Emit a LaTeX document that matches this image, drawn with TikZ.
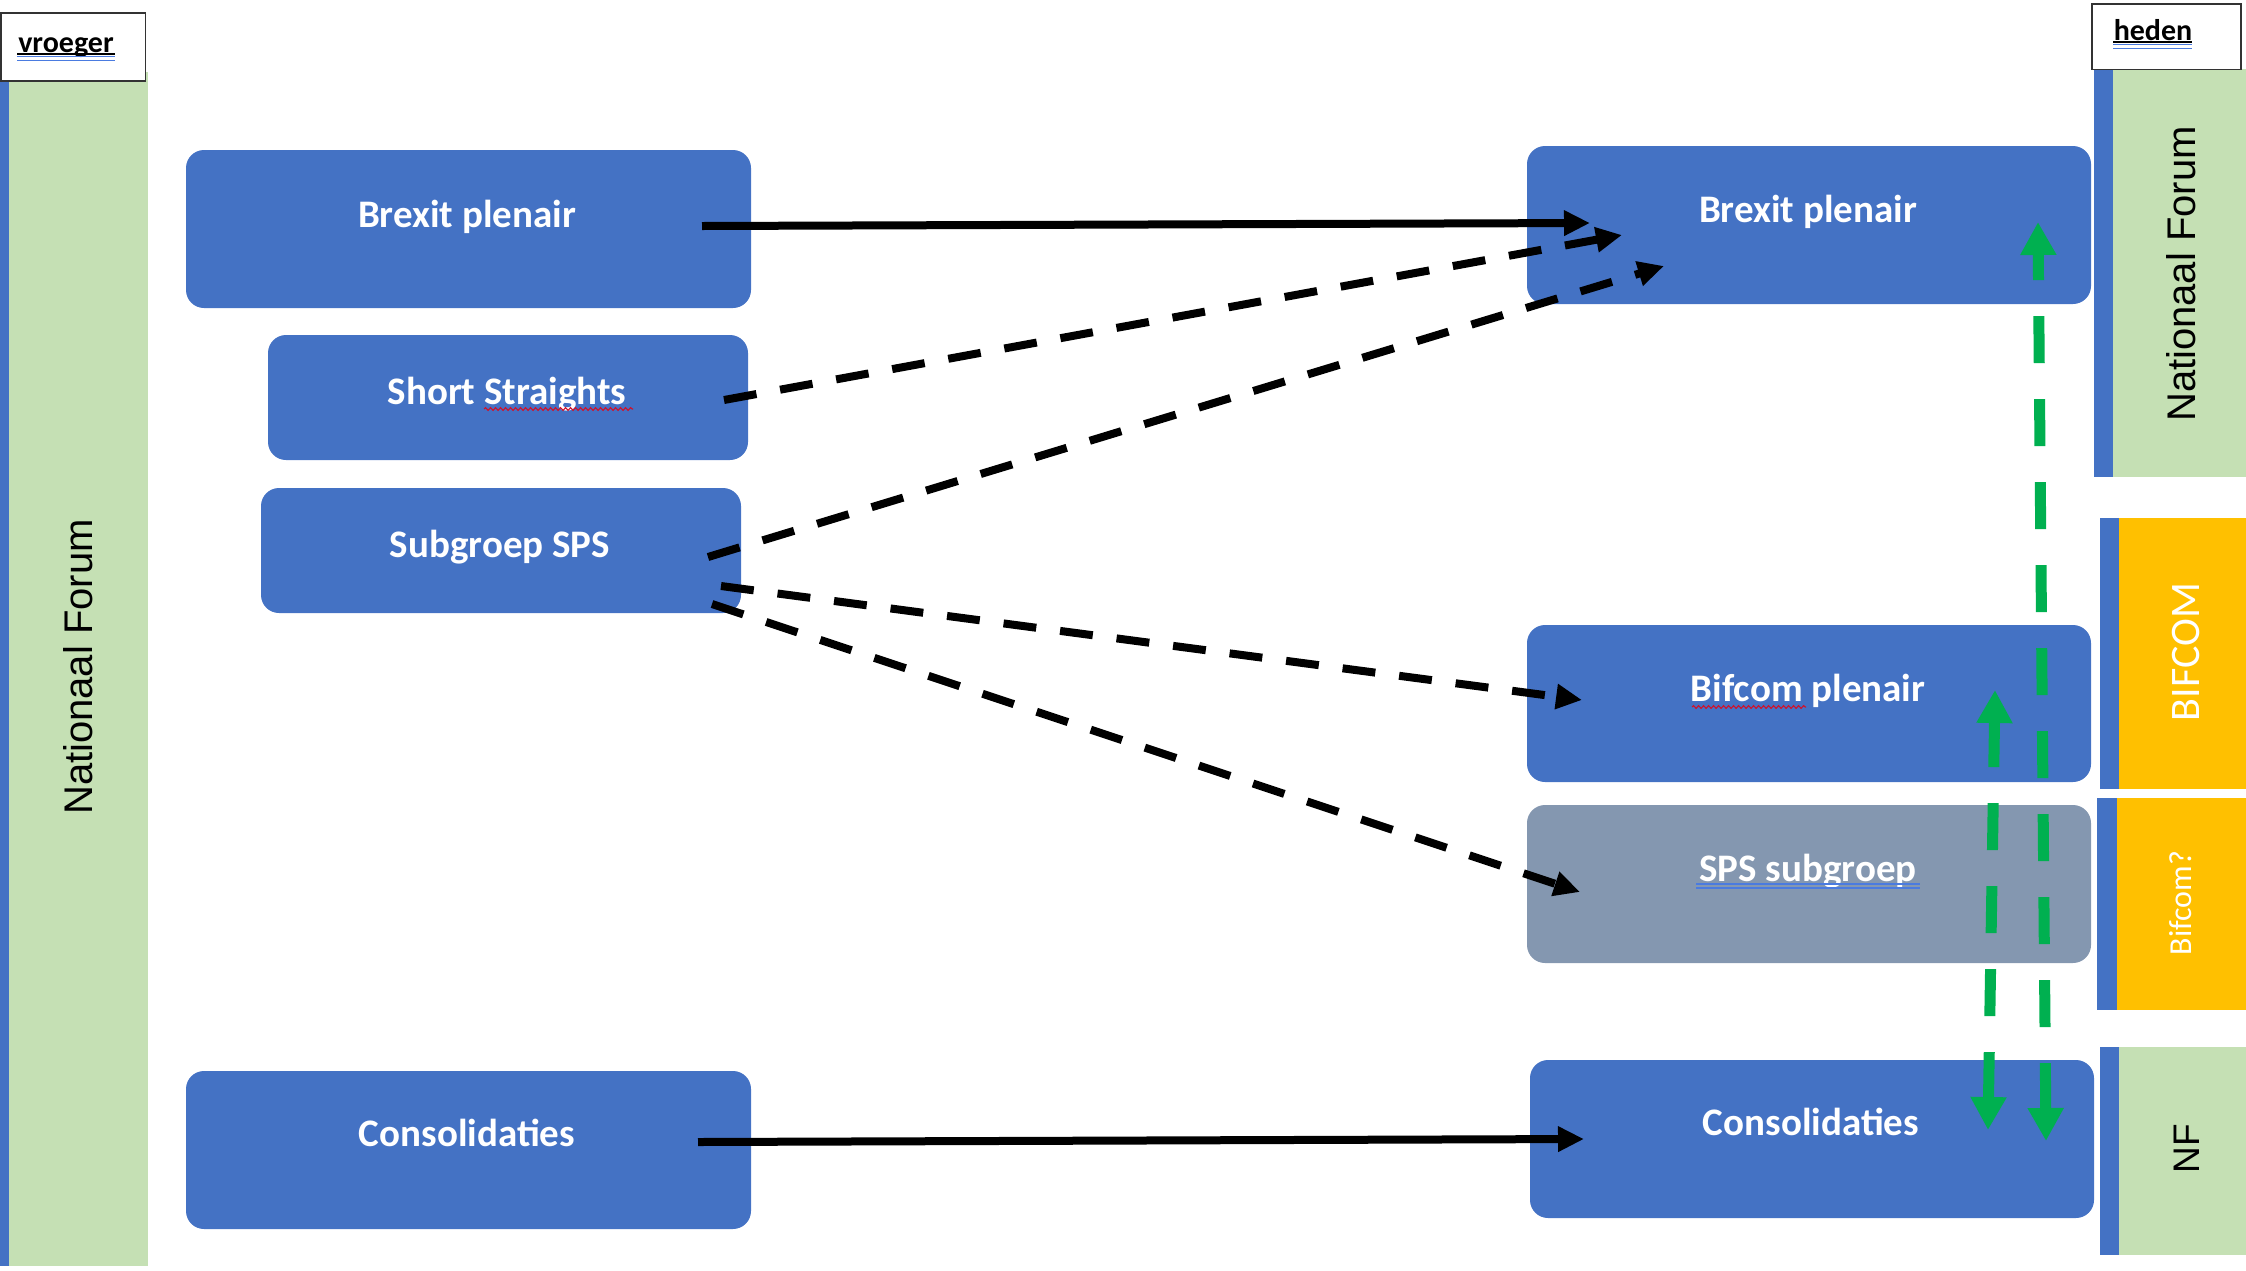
\documentclass[tikz,border=0pt]{standalone}
\usepackage{fontspec}
\setmainfont{Carlito}
\newfontfamily\arialf{Liberation Sans}
\usetikzlibrary{arrows.meta,decorations.pathmorphing,calc}
\definecolor{boxblue}{HTML}{4472C4}
\definecolor{panelgreen}{HTML}{C5E0B4}
\definecolor{panelorange}{HTML}{FFC000}
\definecolor{boxgray}{HTML}{8497B0}
\definecolor{arrowgreen}{HTML}{00B050}
\definecolor{ulblue}{HTML}{4A7BE0}
\definecolor{spellred}{HTML}{D0102A}
\tikzset{
  box/.style={fill=boxblue, rounded corners=18pt, inner sep=0pt, outer sep=0pt, draw=none},
  boxtxt/.style={text=white, font=\fontsize{39}{47}\selectfont\bfseries, anchor=base, inner sep=0pt},
  arr/.style={line width=8pt, draw=black, -{Triangle[length=26pt,width=24pt]}},
  dasharr/.style={arr, dash pattern=on 33pt off 24pt},
  grnarr/.style={line width=11pt, draw=arrowgreen, dash pattern=on 47pt off 36pt,
     {Triangle[length=33pt,width=34pt]}-{Triangle[length=33pt,width=34pt]}},
  sidetxt/.style={rotate=90, inner sep=0pt, anchor=center},
  tagbox/.style={draw=black!80, line width=1.5pt, fill=white},
  tagtxt/.style={font=\fontsize{30}{36}\selectfont\bfseries, anchor=base, inner sep=0pt},
  blueul/.style={draw=ulblue, line width=1.3pt},
  wavy/.style={draw=spellred, line width=1.1pt, decorate, decoration={snake, amplitude=1.4pt, segment length=5pt}}
}
\begin{document}
\begin{tikzpicture}[x=1pt,y=-1pt]
\useasboundingbox (0,0) rectangle (2246,1270);

% left panel
\fill[panelgreen] (9,72) rectangle (148,1266);
\fill[boxblue] (0,81) rectangle (9,1266);
\draw[tagbox] (0.75,13) rectangle (145.5,81);
\node[tagtxt] (vroeg) at (66,52) {vroeger};
\draw[line width=1.4pt, black] (17,54) -- (115,54);
\draw[blueul] (17,56.5) -- (115,56.5);
\draw[blueul] (17,60.5) -- (115,60.5);
\node[sidetxt, font=\arialf\fontsize{40}{48}\selectfont] (lnf) at (78,667) {Nationaal Forum};

% right panels
\fill[boxblue] (2094,69) rectangle (2113,477);
\fill[panelgreen] (2113,69) rectangle (2246,477);
\draw[tagbox] (2092,3.75) rectangle (2241,69.5);
\node[tagtxt] (heden) at (2153,40) {heden};
\draw[line width=1.4pt, black] (2113,42) -- (2192,42);
\draw[blueul] (2113,44.5) -- (2192,44.5);
\draw[blueul] (2113,48.5) -- (2192,48.5);
\node[sidetxt, font=\arialf\fontsize{40}{48}\selectfont] (rnf) at (2181,274) {Nationaal Forum};

\fill[boxblue] (2100,518) rectangle (2119,789);
\fill[panelorange] (2119,518) rectangle (2246,789);
\node[sidetxt, text=white, font=\fontsize{42}{50}\selectfont] (bifc) at (2186,652) {BIFCOM};

\fill[boxblue] (2097,798) rectangle (2117,1010);
\fill[panelorange] (2117,798) rectangle (2246,1010);
\node[sidetxt, text=white, font=\fontsize{32}{38}\selectfont] (bifq) at (2181,903) {Bifcom?};

\fill[boxblue] (2100,1047) rectangle (2119,1255);
\fill[panelgreen] (2119,1047) rectangle (2246,1255);
\node[sidetxt, font=\arialf\fontsize{37}{44}\selectfont] (nf) at (2187,1149) {NF};

% left boxes
\node[box, minimum width=565pt, minimum height=158pt] (bpL) at (468.5,229) {};
\node[box, minimum width=480pt, minimum height=125pt] (ssL) at (508,397.5) {};
\node[box, minimum width=480pt, minimum height=125pt] (sgL) at (501,550.5) {};
\node[box, minimum width=565pt, minimum height=158pt] (coL) at (468.5,1150) {};
\node[boxtxt] (bpLt) at (467,227) {Brexit plenair};
\node[boxtxt] (ssLt) at (507,404) {Short Straights};
\node[boxtxt] (sgLt) at (500,557) {Subgroep SPS};
\node[boxtxt] (coLt) at (467,1146) {Consolidaties};
\draw[wavy] (484,409) -- (633,409);

% right boxes
\node[box, minimum width=564pt, minimum height=158pt] (bpR) at (1809,225) {};
\node[box, minimum width=564pt, minimum height=157pt] (bfR) at (1809,703.5) {};
\node[box, fill=boxgray, minimum width=564pt, minimum height=158pt] (spR) at (1809,884) {};
\node[box, minimum width=564pt, minimum height=158pt] (coR) at (1812,1139) {};
\node[boxtxt] (bpRt) at (1808,222) {Brexit plenair};
\node[boxtxt] (bfRt) at (1808,701) {Bifcom plenair};
\node[boxtxt] (spRt) at (1808,881) {SPS subgroep};
\node[boxtxt] (coRt) at (1811,1135) {Consolidaties};
\draw[wavy] (1692,707) -- (1806,707);
\draw[blueul] (1696,884) -- (1920,884);
\draw[blueul] (1696,888) -- (1920,888);

% connector end points
\coordinate (s1) at ($(bpL.east)+(-49,-3)$);
\coordinate (t1) at ($(bpR.west)+(63,-2)$);
\coordinate (s2) at ($(ssL.east)+(-24,2.5)$);
\coordinate (t2) at ($(bpR.west)+(95,10)$);
\coordinate (s3) at ($(sgL.east)+(-33,6.5)$);
\coordinate (t3) at ($(bpR.west)+(137,41)$);
\coordinate (s4) at ($(sgL.east)+(-20,35.5)$);
\coordinate (t4) at ($(bfR.west)+(55,-3.5)$);
\coordinate (s5) at ($(sgL.east)+(-29,53.5)$);
\coordinate (t5) at ($(spR.west)+(53,8)$);
\coordinate (s6) at ($(coL.east)+(-53,-8)$);
\coordinate (t6) at ($(coR.west)+(54,0)$);
\coordinate (g1a) at ($(coR.east)+(-48,2)$);
\coordinate (g1b) at ($(bpR.east)+(-53,-3)$);
\coordinate (g2a) at ($(coR.east)+(-106,-9)$);
\coordinate (g2b) at ($(bfR.east)+(-96,-13.5)$);

% connectors
\draw[arr] (s1) -- (t1);
\draw[dasharr] (s2) -- (t2);
\draw[dasharr] (s3) -- (t3);
\draw[dasharr] (s4) -- (t4);
\draw[dasharr] (s5) -- (t5);
\draw[arr] (s6) -- (t6);
\draw[grnarr] (g1a) -- (g1b);
\draw[grnarr] (g2a) -- (g2b);
\end{tikzpicture}
\end{document}
